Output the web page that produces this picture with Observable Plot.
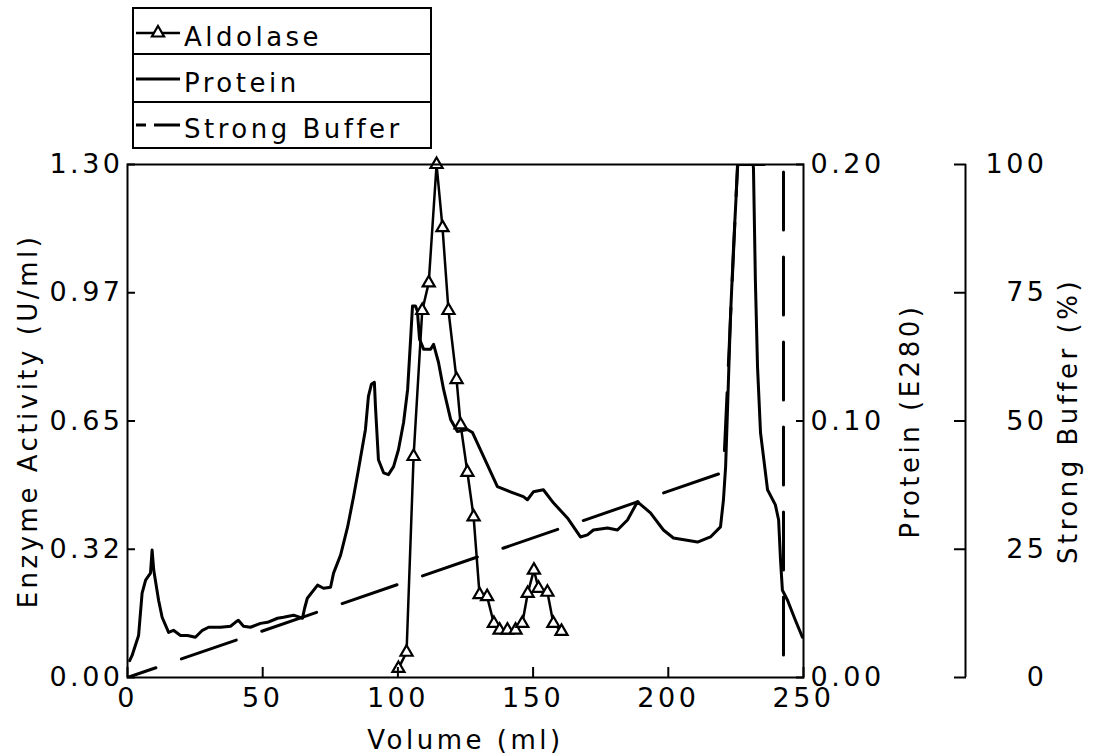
<!DOCTYPE html>
<html><head><meta charset="utf-8">
<script src="https://cdn.jsdelivr.net/npm/d3@7"></script>
<script src="https://cdn.jsdelivr.net/npm/@observablehq/plot@0.6"></script>
<style>
body{margin:0;background:#fff;}
#wrap{position:relative;width:1096px;height:753px;}
#legend{position:absolute;left:132px;top:7px;}
</style></head>
<body><div id="wrap"><div id="chart"></div><div id="legend"></div></div>
<script>
// ---- data ----
const xTitle = "Volume (ml)";
const yTitle = "Enzyme Activity (U/ml)";
const proteinTitle = "Protein (E280)";
const bufferTitle = "Strong Buffer (%)";
const legendLabels = ["Aldolase", "Protein", "Strong Buffer"];

const volumeDomain = [0, 250];
const volumeTicks = [0, 50, 100, 150, 200, 250];
const enzymeDomain = [0, 1.30];
const enzymeTicks = [0, 0.325, 0.65, 0.975, 1.30];
const enzymeTickLabels = ["0.00", "0.32", "0.65", "0.97", "1.30"];
const proteinDomain = [0, 0.20];
const proteinTicks = [0, 0.10, 0.20];
const proteinTickLabels = ["0.00", "0.10", "0.20"];
const bufferDomain = [0, 100];
const bufferTicks = [0, 25, 50, 75, 100];

const aldolaseVolume = [100.2,103.2,105.8,109.0,111.4,114.3,116.5,118.7,121.7,123.2,125.7,128.0,130.2,133.0,135.5,137.6,140.5,143.5,146.0,148.0,150.3,152.0,155.3,157.5,160.5];
const aldolaseActivity = [0.023,0.064,0.56,0.93,1.00,1.30,1.14,0.93,0.755,0.64,0.52,0.407,0.21,0.205,0.137,0.12,0.12,0.12,0.137,0.213,0.272,0.226,0.216,0.137,0.117];

const proteinVolume = [0.8,1.7,4.1,5.4,6.7,8.5,9.1,9.7,11.5,12.8,15.2,17.0,19.6,22.2,25.1,27.7,30.0,34.4,38.1,39.9,41.0,42.9,45.5,49.2,51.8,55.5,57.7,61.4,64.7,65.5,66.5,70.3,72.5,75.1,76.2,78.8,81.4,83.6,85.4,88.0,89.1,90.2,91.3,91.7,92.8,94.7,96.5,98.4,100.2,102.1,103.6,104.7,105.4,106.5,107.2,108.0,109.5,112.1,113.2,115.0,116.9,119.5,122.0,125.7,127.6,130.5,136.8,141.6,146.4,147.9,150.1,153.8,157.5,162.7,167.5,170.1,172.3,177.5,181.2,184.9,188.6,193.4,198.2,201.9,210.8,215.6,219.3,220.4,221.2,221.9,223.0,224.1,225.6,228.6,231.5,232.2,233.0,234.1,236.7,239.6,240.8,241.5,242.2,244.1,247.0,249.6];
const proteinE280 = [0.0066,0.0086,0.0164,0.0329,0.0380,0.0407,0.0497,0.0419,0.0301,0.0235,0.0176,0.0184,0.0164,0.0164,0.0157,0.0184,0.0196,0.0196,0.0200,0.0215,0.0223,0.0200,0.0196,0.0211,0.0215,0.0231,0.0235,0.0243,0.0231,0.0270,0.0309,0.0360,0.0348,0.0352,0.0407,0.0477,0.0587,0.0705,0.0810,0.0967,0.1096,0.1143,0.1151,0.1057,0.0849,0.0798,0.0791,0.0822,0.0888,0.0994,0.1123,0.1319,0.1448,0.1448,0.1429,0.1319,0.1280,0.1280,0.1299,0.1229,0.1123,0.1006,0.0959,0.0967,0.0955,0.0888,0.0744,0.0724,0.0705,0.0693,0.0724,0.0732,0.0681,0.0622,0.0548,0.0556,0.0575,0.0583,0.0575,0.0614,0.0685,0.0642,0.0575,0.0544,0.0528,0.0548,0.0587,0.0693,0.0822,0.1045,0.1409,0.1671,0.1984,0.2400,0.1984,0.1550,0.1210,0.0955,0.0732,0.0673,0.0614,0.0458,0.0340,0.0301,0.0223,0.0157];

const bufferVolume = [0, 220.4, 225.6, 242.6, 242.6];
const bufferPercent = [0, 40, 100, 100, 0];

// ---- build ----
const pScale = enzymeDomain[1] / proteinDomain[1];
const bScale = enzymeDomain[1] / bufferDomain[1];
const aldolase = aldolaseVolume.map((v, i) => ({v, a: aldolaseActivity[i]}));
const protein = proteinVolume.map((v, i) => ({v, y: proteinE280[i] * pScale}));
const buffer = bufferVolume.map((v, i) => ({v, y: bufferPercent[i] * bScale}));
const proteinTickPos = proteinTicks.map(p => p * pScale);
const bufferTickPos = bufferTicks.map(b => b * bScale);

const chart = Plot.plot({
  width: 1096, height: 753,
  marginLeft: 127, marginRight: 293, marginTop: 164, marginBottom: 76,
  x: {domain: volumeDomain},
  y: {domain: enzymeDomain},
  style: {fontFamily: "DejaVu Sans", letterSpacing: "3.5px", background: "white", color: "black", overflow: "visible"},
  marks: [
    Plot.line(protein, {x: "v", y: "y", stroke: "black", strokeWidth: 3, clip: true}),
    Plot.line(buffer, {x: "v", y: "y", stroke: "black", strokeWidth: 3, strokeDasharray: "58,27", strokeDashoffset: 28, clip: true}),
    Plot.line(aldolase, {x: "v", y: "a", stroke: "black", strokeWidth: 2.5}),
    Plot.dot(aldolase, {x: "v", y: "a", symbol: "triangle", r: 4.5, fill: "white", stroke: "black", strokeWidth: 2.2}),
    Plot.frame({stroke: "black", strokeWidth: 2}),
    Plot.axisX(volumeTicks, {tickSize: -10, tickPadding: 20, fontSize: 27, strokeWidth: 2, label: null, tickFormat: d => String(d)}),
    Plot.axisY(enzymeTicks, {anchor: "left", tickSize: -8, tickPadding: 12, fontSize: 27, strokeWidth: 2, label: null,
      tickFormat: d => enzymeTickLabels[enzymeTicks.indexOf(d)]}),
    Plot.axisY(proteinTickPos, {anchor: "right", tickSize: -8, tickPadding: 15, fontSize: 27, strokeWidth: 2, label: null,
      tickFormat: d => proteinTickLabels[proteinTickPos.indexOf(d)]}),
    Plot.axisY(bufferTickPos, {anchor: "right", dx: 162, tickSize: -12, tickPadding: 94, textAnchor: "end", fontSize: 27, strokeWidth: 2, label: null,
      tickFormat: d => String(bufferTicks[bufferTickPos.indexOf(d)])}),
    Plot.ruleX([volumeDomain[1]], {dx: 162, y1: enzymeDomain[0], y2: enzymeDomain[1], stroke: "black", strokeWidth: 2}),
    Plot.text([xTitle], {text: d => d, frameAnchor: "bottom", dy: 63, textAnchor: "middle", lineAnchor: "middle", fontSize: 26}),
    Plot.text([yTitle], {text: d => d, frameAnchor: "left", dx: -99, rotate: -90, textAnchor: "middle", lineAnchor: "middle", fontSize: 26}),
    Plot.text([proteinTitle], {text: d => d, frameAnchor: "right", dx: 107, rotate: -90, textAnchor: "middle", lineAnchor: "middle", fontSize: 26}),
    Plot.text([bufferTitle], {text: d => d, frameAnchor: "right", dx: 265, rotate: -90, textAnchor: "middle", lineAnchor: "middle", fontSize: 26})
  ]
});
document.getElementById("chart").append(chart);

// ---- legend ----
const lg = d3.select("#legend").append("svg").attr("width", 302).attr("height", 144)
  .style("font-family", "DejaVu Sans").style("font-size", "26px").style("letter-spacing", "3.5px");
lg.append("rect").attr("x", 1).attr("y", 1).attr("width", 298).attr("height", 140)
  .attr("fill", "white").attr("stroke", "black").attr("stroke-width", 2);
[47, 95].forEach(yy => lg.append("line").attr("x1", 1).attr("x2", 299).attr("y1", yy).attr("y2", yy).attr("stroke", "black").attr("stroke-width", 2));
const rowY = [26, 72, 118];
lg.append("line").attr("x1", 4).attr("x2", 48).attr("y1", rowY[0]).attr("y2", rowY[0]).attr("stroke", "black").attr("stroke-width", 2.5);
lg.append("path").attr("d", d3.symbol(d3.symbolTriangle, Math.PI * 4.5 * 4.5)()).attr("transform", `translate(26,${rowY[0]})`)
  .attr("fill", "white").attr("stroke", "black").attr("stroke-width", 2.2);
lg.append("line").attr("x1", 4).attr("x2", 48).attr("y1", rowY[1]).attr("y2", rowY[1]).attr("stroke", "black").attr("stroke-width", 3);
[[4, 14], [22, 48]].forEach(([a, b]) => lg.append("line").attr("x1", a).attr("x2", b).attr("y1", rowY[2]).attr("y2", rowY[2]).attr("stroke", "black").attr("stroke-width", 3));
legendLabels.forEach((t, i) => lg.append("text").attr("x", 52).attr("y", rowY[i] + 13).text(t));
</script>
</body></html>
